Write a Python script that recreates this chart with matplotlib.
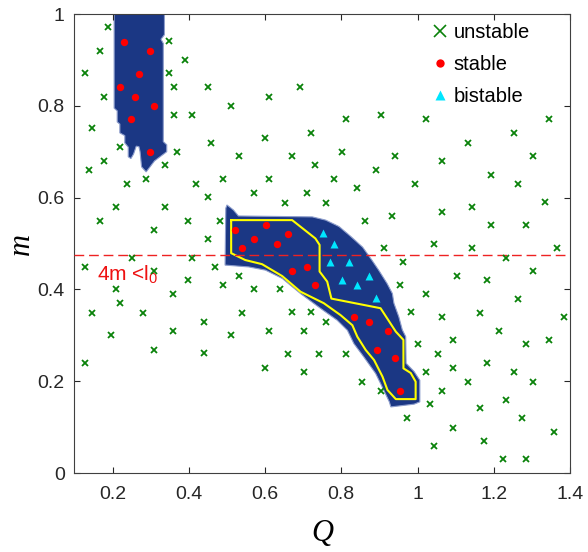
import numpy as np
import matplotlib
matplotlib.use('Agg')
import matplotlib.pyplot as plt
from matplotlib.lines import Line2D

plt.rcParams['font.family'] = ['Liberation Sans', 'DejaVu Sans']
plt.rcParams['mathtext.fontset'] = 'custom'
plt.rcParams['mathtext.rm'] = 'Liberation Sans'
plt.rcParams['mathtext.it'] = 'Liberation Sans:italic'

# unstable points (green x)
unstable_Q = [0.188, 0.168, 0.128, 0.178, 0.147, 0.219, 0.177, 0.138, 0.238, 0.288,
              0.338, 0.368, 0.349, 0.389, 0.349, 0.361, 0.450, 0.511, 0.361, 0.409,
              0.459, 0.531, 0.419, 0.490, 0.450, 0.570, 0.691, 0.611, 0.813, 0.903,
              1.023, 0.600, 0.721, 0.671, 0.803, 0.942, 1.063, 0.732, 0.611, 0.782,
              0.892, 0.711, 0.842, 0.993, 1.345, 1.254, 1.133, 1.304, 1.193, 1.263,
              1.335, 0.209, 0.338, 0.168, 0.309, 0.399, 0.481, 0.450, 0.250, 0.409,
              0.128, 0.309, 0.469, 0.209, 0.399, 0.531, 0.489, 0.570, 0.359, 0.219,
              0.147, 0.279, 0.539, 0.441, 0.197, 0.359, 0.511, 0.309, 0.441, 0.128,
              0.652, 0.761, 0.932, 0.861, 0.911, 0.962, 0.640, 0.953, 0.671, 0.721,
              0.982, 0.761, 0.609, 0.702, 0.661, 0.741, 0.813, 1.000, 0.601, 0.702,
              0.853, 0.903, 1.063, 1.143, 1.193, 1.284, 1.042, 1.143, 1.367, 1.233,
              1.103, 1.183, 1.304, 1.023, 1.263, 1.063, 1.163, 1.384, 1.213, 1.093,
              1.284, 1.345, 1.053, 1.023, 1.093, 1.183, 1.254, 1.133, 1.304, 1.063,
              1.233, 1.033, 1.163, 0.972, 1.273, 1.093, 1.357, 1.174, 1.043, 1.224,
              1.284]
unstable_m = [0.971, 0.920, 0.871, 0.820, 0.751, 0.711, 0.680, 0.660, 0.630, 0.640,
              0.670, 0.700, 0.941, 0.900, 0.871, 0.840, 0.840, 0.800, 0.780, 0.780,
              0.720, 0.690, 0.630, 0.640, 0.602, 0.611, 0.840, 0.820, 0.771, 0.780,
              0.771, 0.730, 0.740, 0.690, 0.700, 0.690, 0.680, 0.670, 0.640, 0.640,
              0.660, 0.611, 0.620, 0.630, 0.771, 0.740, 0.720, 0.690, 0.650, 0.630,
              0.590, 0.580, 0.580, 0.550, 0.529, 0.550, 0.550, 0.510, 0.469, 0.469,
              0.449, 0.440, 0.449, 0.400, 0.420, 0.429, 0.410, 0.400, 0.389, 0.370,
              0.349, 0.349, 0.349, 0.330, 0.300, 0.310, 0.300, 0.269, 0.261, 0.240,
              0.589, 0.589, 0.560, 0.550, 0.490, 0.460, 0.400, 0.409, 0.351, 0.351,
              0.351, 0.330, 0.310, 0.310, 0.259, 0.259, 0.259, 0.280, 0.229, 0.219,
              0.198, 0.179, 0.569, 0.580, 0.540, 0.540, 0.500, 0.490, 0.490, 0.469,
              0.429, 0.420, 0.440, 0.389, 0.380, 0.340, 0.349, 0.340, 0.309, 0.289,
              0.280, 0.289, 0.259, 0.219, 0.229, 0.240, 0.219, 0.199, 0.199, 0.179,
              0.159, 0.150, 0.141, 0.119, 0.119, 0.099, 0.089, 0.070, 0.059, 0.030,
              0.030]

# stable points (red dots)
stable_Q = [0.229, 0.298, 0.269, 0.219, 0.259, 0.309, 0.248, 0.298,
            0.521, 0.602, 0.661, 0.570, 0.631, 0.540, 0.671, 0.711, 0.732,
            0.832, 0.873, 0.923, 0.893, 0.942, 0.953]
stable_m = [0.940, 0.920, 0.870, 0.840, 0.820, 0.800, 0.771, 0.700,
            0.529, 0.540, 0.520, 0.509, 0.500, 0.490, 0.440, 0.449, 0.410,
            0.339, 0.330, 0.309, 0.269, 0.250, 0.179]

# bistable points (cyan triangles)
bistable_Q = [0.751, 0.782, 0.771, 0.821, 0.802, 0.841, 0.872, 0.892]
bistable_m = [0.522, 0.500, 0.460, 0.460, 0.420, 0.410, 0.430, 0.381]

# stable regions (filled)
top_region_Q = [0.204, 0.204, 0.212, 0.212, 0.219, 0.219, 0.232, 0.232, 0.241, 0.241,
                0.248, 0.255, 0.262, 0.269, 0.272, 0.276, 0.288, 0.310, 0.342, 0.342,
                0.333, 0.333, 0.327, 0.336, 0.336]
top_region_m = [1.000, 0.795, 0.789, 0.765, 0.760, 0.741, 0.735, 0.719, 0.710, 0.689,
                0.685, 0.695, 0.712, 0.711, 0.700, 0.667, 0.656, 0.680, 0.700, 0.715,
                0.722, 0.936, 0.945, 0.955, 1.000]
mid_region_Q = [0.500, 0.517, 0.530, 0.724, 0.759, 0.794, 0.824, 0.856, 0.880, 0.898,
                0.920, 0.934, 0.938, 0.951, 0.960, 0.969, 0.970, 0.991, 1.006, 1.006,
                0.991, 0.930, 0.926, 0.903, 0.890, 0.859, 0.833, 0.816, 0.789, 0.745,
                0.693, 0.645, 0.601, 0.557, 0.495, 0.497]
mid_region_m = [0.584, 0.573, 0.560, 0.558, 0.551, 0.537, 0.516, 0.492, 0.464, 0.442,
                0.413, 0.391, 0.370, 0.340, 0.312, 0.297, 0.239, 0.221, 0.202, 0.155,
                0.150, 0.144, 0.155, 0.195, 0.217, 0.253, 0.282, 0.311, 0.333, 0.359,
                0.391, 0.424, 0.442, 0.449, 0.453, 0.577]

# yellow boundary
contour_Q = [0.511, 0.671, 0.732, 0.743, 0.743, 0.763, 0.774, 0.903, 0.943, 0.963,
             0.963, 0.982, 0.995, 0.995, 0.943, 0.921, 0.908, 0.886, 0.864, 0.842,
             0.829, 0.798, 0.754, 0.693, 0.645, 0.592, 0.548, 0.511, 0.511]
contour_m = [0.551, 0.551, 0.511, 0.497, 0.439, 0.417, 0.380, 0.359, 0.308, 0.290,
             0.228, 0.218, 0.199, 0.161, 0.161, 0.181, 0.210, 0.246, 0.268, 0.297,
             0.322, 0.344, 0.370, 0.395, 0.429, 0.455, 0.464, 0.479, 0.551]

m_limit = 0.474

xticks = [0.2, 0.4, 0.6, 0.8, 1.0, 1.2, 1.4]
xtick_labels = ['0.2', '0.4', '0.6', '0.8', '1', '1.2', '1.4']
yticks = [0, 0.2, 0.4, 0.6, 0.8, 1.0]
ytick_labels = ['0', '0.2', '0.4', '0.6', '0.8', '1']

fig = plt.figure(figsize=(5.88, 5.52), dpi=100)
ax = fig.add_axes([0.1267, 0.1431, 0.8427, 0.8315])

navy = '#1b3784'
for qq, mm in [(top_region_Q, top_region_m), (mid_region_Q, mid_region_m)]:
    ax.fill(qq, mm, facecolor=navy, edgecolor='#8d9dcc', lw=0.8, zorder=1)
ax.plot(contour_Q, contour_m, color='#ffff00', lw=1.5, zorder=2)

ax.axhline(m_limit, color='#ee2222', lw=1.0, ls=(0, (7, 3.5)), zorder=3)
ax.text(0.158, 0.420, '4m <l$_0$', color='#ee1111', fontsize=15, va='baseline')

ax.plot(unstable_Q, unstable_m, 'x', color='#0a820a', ms=5, mew=1.3, zorder=4)
ax.plot(stable_Q, stable_m, 'o', color='#ff0000', ms=5.3, mec='none', zorder=4)
ax.plot(bistable_Q, bistable_m, '^', color='#00e6ff', ms=5.5, mec='none', zorder=4)

handles = [Line2D([], [], ls='none', marker='x', color='#0a820a', ms=8, mew=1.2),
           Line2D([], [], ls='none', marker='o', color='#ff0000', ms=6, mec='none'),
           Line2D([], [], ls='none', marker='^', color='#00e6ff', ms=6.5, mec='none')]
ax.legend(handles, ['unstable', 'stable', 'bistable'], loc='upper left',
          bbox_to_anchor=(0.692, 1.012), frameon=False, fontsize=14.5,
          handlelength=0.8, handletextpad=0.3, labelspacing=0.65, borderpad=0.2)

ax.set_xlim(0.1, 1.4)
ax.set_ylim(0, 1)
ax.set_xticks(xticks)
ax.set_xticklabels(xtick_labels)
ax.set_yticks(yticks)
ax.set_yticklabels(ytick_labels)
ax.tick_params(direction='in', length=4, width=0.8, top=True, right=True,
               labelsize=14, colors='#262626')
ax.tick_params(axis='x', pad=9)
ax.tick_params(axis='y', pad=7)
for s in ax.spines.values():
    s.set_color('#404040')
    s.set_linewidth(0.8)

ax.set_xlabel('Q', family='Liberation Serif', style='italic', fontsize=22, va='center')
ax.xaxis.set_label_coords(0.5, -0.131)
ax.set_ylabel('m', family='Liberation Serif', style='italic', fontsize=22, va='center')
ax.yaxis.set_label_coords(-0.107, 0.5)

plt.savefig('out.png', dpi=100)
